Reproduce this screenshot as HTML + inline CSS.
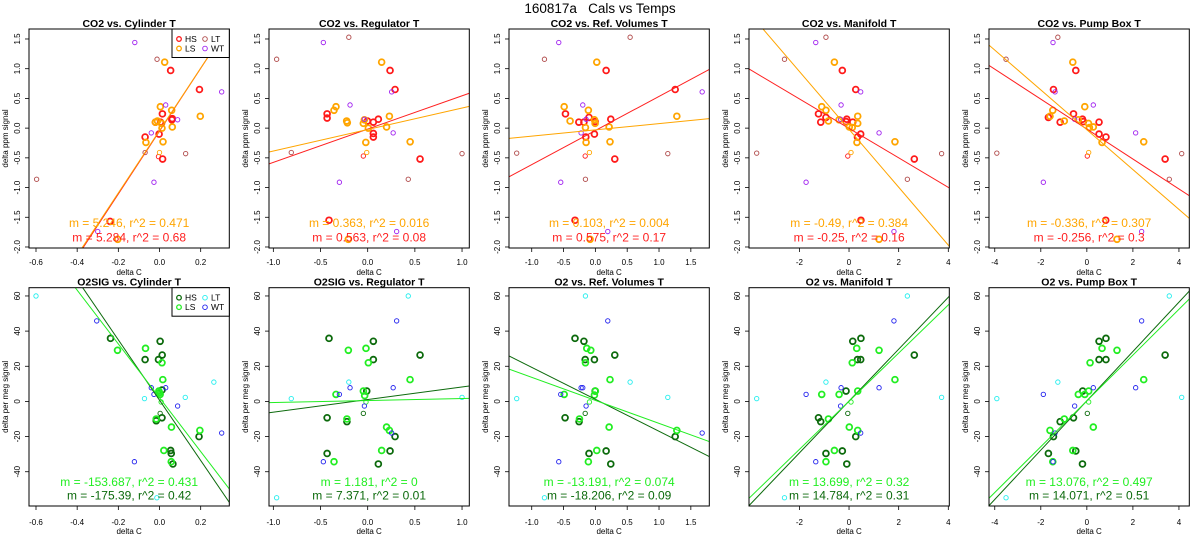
<!DOCTYPE html>
<html><head><meta charset="utf-8">
<style>
html,body{margin:0;padding:0;background:#fff;}
svg{display:block;font-family:"Liberation Sans",Arial,sans-serif;}
</style></head>
<body>
<svg id="chart" width="1200" height="550" viewBox="0 0 1200 550" xmlns="http://www.w3.org/2000/svg">
<rect x="0" y="0" width="1200" height="550" fill="#fff"/>
<text x="600" y="13" font-size="13.5" text-anchor="middle" fill="#000" style="white-space:pre" xml:space="preserve">160817a   Cals vs Temps</text>
</svg>
<script>
// ---------- tick labels ----------
const xTicks1 = [-0.6,-0.4,-0.2,0.0,0.2];
const xTicks2 = [-1.0,-0.5,0.0,0.5,1.0];
const xTicks3 = [-1.0,-0.5,0.0,0.5,1.0,1.5];
const xTicks4 = [-2,0,2,4];
const xTicks5 = [-4,-2,0,2,4];
const yTicksCO2 = [-2.0,-1.5,-1.0,-0.5,0.0,0.5,1.0,1.5];
const yTicksO2 = [-40,-20,0,20,40,60];
const titlesTop = ["CO2 vs. Cylinder T","CO2 vs. Regulator T","CO2 vs. Ref. Volumes T","CO2 vs. Manifold T","CO2 vs. Pump Box T"];
const titlesBot = ["O2SIG vs. Cylinder T","O2SIG vs. Regulator T","O2 vs. Ref. Volumes T","O2 vs. Manifold T","O2 vs. Pump Box T"];

// ---------- CO2 panel data [deltaC, signal] ----------
const c1_HS = [[0.054,0.97],[0.194,0.65],[0.014,0.24],[0.062,0.16],[0.060,0.14],[-0.07,-0.15],[-0.002,-0.10],[0.015,-0.52],[-0.24,-1.57],[0.005,0.10],[-0.02,0.10]];
const c1_LS = [[0.025,1.11],[0.004,0.36],[0.059,0.30],[-0.02,0.10],[-0.01,0.12],[0.01,0.08],[0.012,0.0],[0.062,0.02],[0.198,0.20],[-0.066,-0.24],[0.017,-0.23],[-0.203,-1.87]];
const c1_HSt = [[-0.005,-0.48]];
const c1_LSt = [[0.0,-0.41]];
const c1_LT = [[-0.012,1.16],[-0.597,-0.86],[-0.07,-0.41],[0.127,-0.43]];
const c1_WT = [[-0.12,1.44],[0.03,0.39],[-0.04,-0.08],[0.088,0.14],[0.302,0.61],[-0.027,-0.91],[-0.30,-1.74]];

const c2_HS = [[0.237,0.97],[0.29,0.65],[-0.43,0.24],[-0.43,0.17],[0.113,0.15],[0.06,0.10],[-0.003,0.12],[0.06,-0.09],[0.06,-0.15],[0.555,-0.52],[-0.41,-1.55]];
const c2_LS = [[0.148,1.11],[-0.336,0.36],[-0.357,0.30],[-0.223,0.12],[-0.216,0.09],[-0.046,0.08],[-0.035,0.14],[0.007,0.0],[0.23,0.2],[0.2,0.02],[-0.02,-0.24],[0.45,-0.23],[-0.205,-1.87]];
const c2_HSt = [[-0.046,-0.47]];
const c2_LSt = [[-0.01,-0.41]];
const c2_LT = [[-0.2,1.53],[-0.965,1.16],[-0.81,-0.41],[1.0,-0.43],[0.43,-0.86]];
const c2_WT = [[-0.47,1.44],[-0.187,0.39],[-0.035,0.15],[0.254,0.61],[0.27,-0.08],[-0.30,-0.91],[0.307,-1.74]];

const c3_HS = [[0.169,0.97],[1.254,0.65],[-0.47,0.24],[-0.10,0.18],[-0.18,0.10],[-0.26,0.10],[-0.004,0.11],[0.242,0.15],[-0.015,-0.10],[-0.15,-0.15],[0.305,-0.52],[-0.32,-1.55]];
const c3_LS = [[0.022,1.11],[-0.49,0.36],[-0.11,0.30],[-0.397,0.12],[-0.015,0.14],[-0.004,0.08],[-0.156,0.01],[0.216,0.02],[1.28,0.2],[-0.146,-0.24],[0.23,-0.23],[-0.083,-1.87]];
const c3_HSt = [[-0.16,-0.47]];
const c3_LSt = [[-0.093,-0.41]];
const c3_LT = [[0.546,1.53],[-0.80,1.16],[-1.236,-0.42],[1.138,-0.43],[-0.156,-0.86]];
const c3_WT = [[-0.575,1.44],[-0.198,0.39],[-0.146,0.15],[-0.224,-0.08],[1.678,0.61],[-0.544,-0.91],[0.195,-1.74]];

const c4_HS = [[-0.27,0.97],[0.27,0.65],[-1.23,0.24],[-0.93,0.18],[-1.14,0.10],[-0.09,0.15],[-0.12,0.11],[0.15,0.10],[0.47,-0.10],[0.34,-0.15],[2.63,-0.52],[0.48,-1.55]];
const c4_LS = [[-0.59,1.11],[-1.1,0.36],[-0.93,0.30],[-0.83,0.12],[-0.40,0.14],[0.35,0.2],[0.35,0.08],[0.01,0.02],[0.13,0.01],[0.32,-0.24],[1.85,-0.23],[1.21,-1.87]];
const c4_HSt = [[-0.05,-0.47]];
const c4_LSt = [[0.08,-0.41]];
const c4_LT = [[-0.93,1.53],[-2.6,1.16],[-3.72,-0.42],[3.73,-0.43],[2.35,-0.86]];
const c4_WT = [[-1.34,1.44],[-0.32,0.39],[-0.34,0.15],[0.47,0.61],[1.21,-0.08],[-1.73,-0.91],[1.81,-1.74]];

const c5_HS = [[-0.48,0.97],[-1.45,0.65],[-0.58,0.24],[-1.67,0.18],[-1.16,0.10],[-0.19,0.15],[-0.15,0.11],[0.53,0.10],[0.53,-0.10],[0.83,-0.15],[3.40,-0.52],[0.82,-1.55]];
const c5_LS = [[-0.61,1.11],[-0.09,0.36],[-1.48,0.30],[-1.6,0.2],[-0.98,0.12],[-0.37,0.14],[0.07,0.08],[0.11,0.01],[0.28,0.02],[0.66,-0.24],[2.47,-0.23],[1.31,-1.87]];
const c5_HSt = [[0.02,-0.47]];
const c5_LSt = [[0.08,-0.41]];
const c5_LT = [[-1.26,1.53],[-3.51,1.16],[-3.91,-0.42],[4.12,-0.43],[3.58,-0.86]];
const c5_WT = [[-1.47,1.44],[0.28,0.39],[-0.53,0.15],[-1.38,0.61],[2.12,-0.08],[-1.89,-0.91],[2.38,-1.74]];

// ---------- O2 panel data ----------
const o1_HS = [[-0.238,35.9],[0.003,34.2],[0.013,26.4],[-0.07,23.8],[-0.005,23.8],[0.012,6.5],[-0.016,-11],[0.012,-9.3],[0.192,-20],[0.054,-27.9],[0.057,-29.6],[0.065,-35.6]];
const o1_LS = [[-0.068,30.2],[-0.204,29.1],[0.012,22],[0.016,12.4],[-0.003,5.9],[0.003,4],[0.0,5],[-0.016,-10],[0.058,-14.6],[0.196,-16.5],[0.021,-27.9],[0.057,-34.3]];
const o1_HSt = [[0.003,-6.8]];
const o1_LSt = [[0.008,-0.3]];
const o1_LT = [[-0.6,60],[0.264,11],[0.125,2.3],[-0.073,1.6],[-0.013,-54.8]];
const o1_WT = [[-0.305,45.8],[-0.04,7.8],[-0.027,4],[0.03,7.8],[0.088,-2.6],[0.302,-18],[-0.122,-34.3]];

const o2_HS = [[-0.41,35.9],[0.06,34.2],[0.555,26.4],[0.06,23.8],[-0.01,5.9],[-0.43,-9.3],[-0.22,-11.5],[0.29,-20],[0.237,-28.2],[-0.43,-29.6],[0.113,-35.6]];
const o2_LS = [[-0.018,30.2],[-0.205,29.1],[0.007,22],[0.449,12.4],[-0.046,5.9],[-0.336,4],[-0.032,3.3],[-0.22,-10],[0.2,-14.6],[0.23,-16.5],[0.148,-27.9],[-0.357,-34.3]];
const o2_HSt = [[-0.046,-6.8]];
const o2_LSt = [[-0.018,-0.3]];
const o2_LT = [[0.43,60],[-0.2,11],[1.0,2.3],[-0.81,1.6],[-0.965,-54.8]];
const o2_WT = [[0.307,45.8],[-0.187,7.8],[-0.30,4],[0.27,7.8],[-0.035,-2.6],[0.254,-18],[-0.47,-34.3]];

const o3_HS = [[-0.32,35.9],[-0.18,34.2],[0.305,26.4],[-0.16,23.8],[-0.015,23.8],[-0.004,5.9],[-0.476,-9.3],[-0.256,-11.5],[1.254,-20],[0.169,-28.2],[-0.10,-29.6],[0.242,-35.6]];
const o3_LS = [[-0.135,30.2],[-0.072,29.1],[-0.156,22],[0.23,12.4],[0.0,5.9],[-0.49,4],[-0.015,3.6],[-0.25,-10],[0.216,-14.6],[1.28,-16.5],[0.022,-27.9],[-0.11,-34.3]];
const o3_HSt = [[-0.16,-6.8]];
const o3_LSt = [[-0.093,-0.3]];
const o3_LT = [[-0.156,60],[0.546,11],[1.138,2.3],[-1.236,1.6],[-0.80,-54.8]];
const o3_WT = [[0.195,45.8],[-0.224,7.8],[-0.544,4],[-0.198,7.8],[-0.146,-2.6],[1.678,-18],[-0.575,-34.3]];

const o4_HS = [[0.48,35.9],[0.15,34.2],[2.63,26.4],[0.34,23.8],[0.47,23.8],[-0.12,5.9],[-1.23,-9.3],[-1.14,-11.5],[0.27,-20],[-0.27,-28.2],[-0.93,-29.6],[-0.09,-35.6]];
const o4_LS = [[0.31,30.2],[1.21,29.1],[0.13,22],[1.85,12.4],[0.35,5.9],[-1.1,4],[-0.4,4],[-0.83,-10],[0.01,-14.6],[0.35,-16.5],[-0.59,-27.9],[-0.93,-34.3]];
const o4_HSt = [[-0.05,-6.8]];
const o4_LSt = [[0.08,-0.3]];
const o4_LT = [[2.35,60],[-0.93,11],[3.73,2.3],[-3.72,1.6],[-2.6,-54.8]];
const o4_WT = [[1.81,45.8],[-0.32,7.8],[-1.73,4],[1.21,7.8],[-0.34,-2.6],[0.47,-18],[-1.34,-34.3]];

const o5_HS = [[0.83,35.9],[0.53,34.2],[3.40,26.4],[0.53,23.8],[0.83,23.8],[-0.18,5.9],[-0.58,-9.3],[-1.16,-11.5],[-1.45,-20],[-0.48,-28.2],[-1.67,-29.6],[-0.19,-35.6]];
const o5_LS = [[0.66,30.2],[1.31,29.1],[0.14,22],[2.47,12.4],[0.08,5.9],[-0.37,4],[-0.09,4],[-0.98,-10],[0.28,-14.6],[-1.6,-16.5],[-0.61,-27.9],[-1.48,-34.3]];
const o5_HSt = [[0.02,-6.8]];
const o5_LSt = [[0.08,-0.3]];
const o5_LT = [[3.58,60],[-1.26,11],[4.12,2.3],[-3.91,1.6],[-3.51,-54.8]];
const o5_WT = [[2.38,45.8],[0.28,7.8],[-1.89,4],[2.12,7.8],[-0.53,-2.6],[-1.38,-18],[-1.47,-34.3]];

// ---------- fits [slope, intercept] and printed stats ----------
const fitsTopLS = [[5.246,-0.04],[0.362,-0.023],[0.105,-0.029],[-0.487,-0.02],[-0.335,-0.027]];
const fitsTopHS = [[5.284,-0.05],[0.56,-0.016],[0.574,-0.04],[-0.248,-0.004],[-0.252,-0.016]];
const fitsBotLS = [[-153,2.1],[1.16,0.51],[-13.1,0.6],[13.7,0.1],[13.03,0.3]];
const fitsBotHS = [[-171.5,0.7],[7.17,1.07],[-18.2,1.2],[14.76,0.2],[14.03,0.35]];
const statTopLS = ["m = 5.246, r^2 = 0.471","m = 0.363, r^2 = 0.016","m = 0.103, r^2 = 0.004","m = -0.49, r^2 = 0.384","m = -0.336, r^2 = 0.307"];
const statTopHS = ["m = 5.284, r^2 = 0.68","m = 0.563, r^2 = 0.08","m = 0.575, r^2 = 0.17","m = -0.25, r^2 = 0.16","m = -0.256, r^2 = 0.3"];
const statBotLS = ["m = -153.687, r^2 = 0.431","m = 1.181, r^2 = 0","m = -13.191, r^2 = 0.074","m = 13.699, r^2 = 0.32","m = 13.076, r^2 = 0.497"];
const statBotHS = ["m = -175.39, r^2 = 0.42","m = 7.371, r^2 = 0.01","m = -18.206, r^2 = 0.09","m = 14.784, r^2 = 0.31","m = 14.071, r^2 = 0.51"];

const NS = "http://www.w3.org/2000/svg";
const svg = document.getElementById('chart');
function mk(tag, attrs, parent){ const e=document.createElementNS(NS,tag); for(const k in attrs) e.setAttribute(k,attrs[k]); (parent||svg).appendChild(e); return e; }

const xRanges = [[-0.634,0.339],[-1.046,1.077],[-1.357,1.79],[-4.03,4.04],[-4.25,4.45]];
const xTickSets = [xTicks1,xTicks2,xTicks3,xTicks4,xTicks5];
const topData = [[c1_HS,c1_LS,c1_HSt,c1_LSt,c1_LT,c1_WT],[c2_HS,c2_LS,c2_HSt,c2_LSt,c2_LT,c2_WT],[c3_HS,c3_LS,c3_HSt,c3_LSt,c3_LT,c3_WT],[c4_HS,c4_LS,c4_HSt,c4_LSt,c4_LT,c4_WT],[c5_HS,c5_LS,c5_HSt,c5_LSt,c5_LT,c5_WT]];
const botData = [[o1_HS,o1_LS,o1_HSt,o1_LSt,o1_LT,o1_WT],[o2_HS,o2_LS,o2_HSt,o2_LSt,o2_LT,o2_WT],[o3_HS,o3_LS,o3_HSt,o3_LSt,o3_LT,o3_WT],[o4_HS,o4_LS,o4_HSt,o4_LSt,o4_LT,o4_WT],[o5_HS,o5_LS,o5_HSt,o5_LSt,o5_LT,o5_WT]];
const groupNames = ["HS","LS","HS-thin","LS-thin","LT","WT"];

function fmtTick(v, dec){ return v.toFixed(dec); }

function drawPanel(row, col){
  const L = 29 + 240*col, R = L + 200.3;
  const T = row ? 287.7 : 29, B = row ? 506 : 248;
  const [xmin,xmax] = xRanges[col];
  const [ymin,ymax] = row ? [-59.5,64.7] : [-2.017,1.668];
  const sx = v => L + (v-xmin)/(xmax-xmin)*(R-L);
  const sy = v => B - (v-ymin)/(ymax-ymin)*(B-T);
  const cols = row ? ["#0c6a0c","#22ee22","#0c6a0c","#22ee22","#22eeee","#2222ee"] : ["#ff1a1a","#ffa500","#ff1a1a","#ffa500","#b04a4a","#a020f0"];
  const pid = (row?'o2':'co2')+'-panel-'+(col+1);
  const g = mk('g',{});
  
  
  const cid = 'clip-'+row+'-'+col;
  const cp = mk('clipPath',{id:cid}, g);
  mk('rect',{x:L,y:T,width:R-L,height:B-T}, cp);

  const t = mk('text',{x:(L+R)/2,y:row?285.5:27,'font-size':10.5,'font-weight':'bold','text-anchor':'middle',fill:'#000'}, g);
  
  
  t.textContent = row ? titlesBot[col] : titlesTop[col];

  const xt = xTickSets[col];
  const xdec = (col>=3) ? 0 : 1;
  xt.forEach(v=>{
    const x = sx(v);
    mk('line',{x1:x,x2:x,y1:B,y2:B+4,stroke:'#000','stroke-width':0.8}, g);
    const tl = mk('text',{x:x,y:B+(row?19:17),'font-size':8,'text-anchor':'middle',fill:'#000'}, g);
    
    
    tl.textContent = fmtTick(v,xdec);
  });
  const xl = mk('text',{x:(L+R)/2,y:B+(row?28:27),'font-size':8,'text-anchor':'middle',fill:'#000'}, g);
  
  
  xl.textContent = 'delta C';

  const yt = row ? yTicksO2 : yTicksCO2;
  yt.forEach(v=>{
    const y = sy(v);
    mk('line',{x1:L-4,x2:L,y1:y,y2:y,stroke:'#000','stroke-width':0.8}, g);
    const tl = mk('text',{x:L-9,y:y,'font-size':8,'text-anchor':'middle',fill:'#000',transform:'rotate(-90 '+(L-9)+' '+y+')'}, g);
    
    
    tl.textContent = row ? fmtTick(v,0) : fmtTick(v,1);
  });
  const yc = (T+B)/2;
  const yl = mk('text',{x:L-21,y:yc,'font-size':8,'text-anchor':'middle',fill:'#000',transform:'rotate(-90 '+(L-21)+' '+yc+')'}, g);
  
  
  yl.textContent = row ? 'delta per meg signal' : 'delta ppm signal';

  const data = row ? botData[col] : topData[col];
  data.forEach((pts,gi)=>{
    const thick = gi<2;
    pts.forEach(p=>{
      const c = mk('circle',{cx:sx(p[0]),cy:sy(p[1]),r:thick?2.9:2.2,fill:'none',stroke:cols[gi],'stroke-width':thick?1.8:0.9,'clip-path':'url(#'+cid+')'}, g);
      
      
    });
  });

  const fits = row ? [fitsBotHS[col],fitsBotLS[col]] : [fitsTopHS[col],fitsTopLS[col]];
  const lc = row ? ["#0c6a0c","#22ee22"] : ["#ff2020","#ffa500"];
  fits.forEach((f,i)=>{
    const ln = mk('line',{x1:sx(xmin),y1:sy(f[0]*xmin+f[1]),x2:sx(xmax),y2:sy(f[0]*xmax+f[1]),stroke:lc[i],'stroke-width':1,'clip-path':'url(#'+cid+')'}, g);
    
    
  });

  const s1 = mk('text',{x:(L+R)/2,y:row?486:227,'font-size':12,'text-anchor':'middle',fill:lc[1]}, g);
  
  
  s1.textContent = row ? statBotLS[col] : statTopLS[col];
  const s2 = mk('text',{x:(L+R)/2,y:row?499.5:241.5,'font-size':12,'text-anchor':'middle',fill:lc[0]}, g);
  
  
  s2.textContent = row ? statBotHS[col] : statTopHS[col];

  const bx = mk('rect',{x:L,y:T,width:R-L,height:B-T,fill:'none',stroke:'#000','stroke-width':1}, g);
  
  

  if(col===0){
    const lg = mk('g',{}, g);
    
    
    mk('rect',{x:L+143,y:T,width:R-L-143,height:28.5,fill:'#fff',stroke:'#000','stroke-width':1}, lg);
    const ents = [["HS",cols[0],0,0,true],["LT",cols[4],1,0,false],["LS",cols[1],0,1,true],["WT",cols[5],1,1,false]];
    ents.forEach(e=>{
      const ex = L+150+e[2]*26, ey = T+10+e[3]*9.5;
      const ent = mk('g',{}, lg);
      
      
      mk('circle',{cx:ex,cy:ey,r:2.3,fill:'none',stroke:e[1],'stroke-width':e[4]?1.3:0.9}, ent);
      const tx = mk('text',{x:ex+6,y:ey+3,'font-size':8.5,fill:'#000'}, ent);
      tx.textContent = e[0];
    });
  }
}
for(let r=0;r<2;r++) for(let c=0;c<5;c++) drawPanel(r,c);
</script>
</body></html>
